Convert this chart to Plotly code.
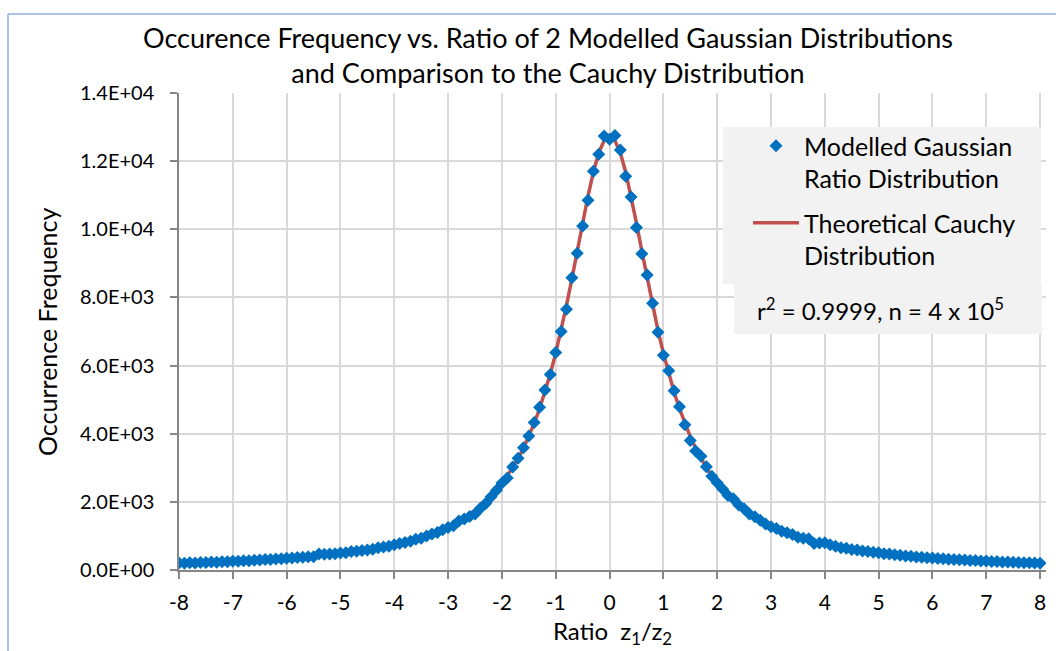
import plotly.graph_objects as go

# ---- data -------------------------------------------------------------
ratio_x = [round(-8 + 0.1 * i, 1) for i in range(161)]

modelled_freq = [
    205, 198, 210, 207, 221, 218, 232, 230, 245, 243,
    258, 257, 273, 272, 289, 290, 306, 310, 325, 330,
    345, 352, 366, 372, 386, 392, 470, 462, 468, 478,
    500, 505, 540, 548, 575, 590, 612, 650, 675, 695,
    740, 775, 810, 845, 900, 935, 1000, 1060, 1100, 1180,
    1250, 1300, 1440, 1500, 1570, 1640, 1810, 1950, 2150, 2340,
    2550, 2700, 3020, 3280, 3590, 3930, 4330, 4780, 5280, 5740,
    6380, 7000, 7650, 8580, 9300, 10100, 10850, 11700, 12200, 12740,
    12640,
    12750, 12330, 11560, 10950, 10050, 9280, 8660, 7830, 6980, 6300,
    5850, 5260, 4790, 4260, 3800, 3490, 3340, 3030, 2750, 2560,
    2380, 2190, 2090, 1910, 1800, 1640, 1560, 1460, 1350, 1270,
    1220, 1140, 1090, 1040, 960, 935, 920, 780, 790, 800,
    740, 700, 655, 640, 600, 585, 560, 545, 520, 505,
    480, 470, 445, 430, 410, 400, 385, 375, 360, 352,
    338, 330, 315, 310, 298, 292, 280, 276, 266, 262,
    252, 247, 238, 234, 226, 222, 214, 211, 204, 200,
]

cauchy_freq = [
    196, 201, 206, 211, 217, 222, 228, 235, 241, 248,
    255, 262, 270, 277, 286, 294, 303, 313, 323, 333,
    344, 356, 368, 380, 393, 407, 422, 438, 454, 471,
    490, 509, 530, 551, 575, 599, 625, 653, 683, 715,
    749, 785, 825, 867, 912, 961, 1014, 1071, 1133, 1200,
    1273, 1353, 1440, 1536, 1641, 1756, 1883, 2024, 2180, 2353,
    2546, 2762, 3003, 3273, 3576, 3918, 4301, 4733, 5218, 5761,
    6366, 7034, 7764, 8545, 9362, 10186, 10976, 11681, 12243, 12606,
    12732,
    12606, 12243, 11681, 10976, 10186, 9362, 8545, 7764, 7034, 6366,
    5761, 5218, 4733, 4301, 3918, 3576, 3273, 3003, 2762, 2546,
    2353, 2180, 2024, 1883, 1756, 1641, 1536, 1440, 1353, 1273,
    1200, 1133, 1071, 1014, 961, 912, 867, 825, 785, 749,
    715, 683, 653, 625, 599, 575, 551, 530, 509, 490,
    471, 454, 438, 422, 407, 393, 380, 368, 356, 344,
    333, 323, 313, 303, 294, 286, 277, 270, 262, 255,
    248, 241, 235, 228, 222, 217, 211, 206, 201, 196,
]

x_ticks = list(range(-8, 9))
y_tickvals = [0, 2000, 4000, 6000, 8000, 10000, 12000, 14000]
y_ticktext = ["0.0E+00", "2.0E+03", "4.0E+03", "6.0E+03",
              "8.0E+03", "1.0E+04", "1.2E+04", "1.4E+04"]

# ---- layout constants -------------------------------------------------
W, H = 1056, 651
L, R, T, B = 179, 10, 93, 81
PW, PH = W - L - R, H - T - B


def px(x):
    return (x - L) / PW


def py(y):
    return (H - B - y) / PH


FONT = "Lato, Carlito, Calibri, sans-serif"

fig = go.Figure()

fig.add_trace(go.Scatter(
    x=ratio_x, y=cauchy_freq, mode="lines",
    name="Theoretical Cauchy<br>Distribution",
    line=dict(color="#C0504D", width=3.5),
    legendrank=2, legendgroup="cauchy",
))
fig.add_trace(go.Scatter(
    x=ratio_x, y=modelled_freq, mode="markers",
    name="Modelled Gaussian<br>Ratio Distribution",
    marker=dict(symbol="diamond", size=10, color="#0070C0"),
    legendrank=1, legendgroup="modelled",
))

fig.update_layout(
    width=W, height=H,
    margin=dict(l=L, r=R, t=T, b=B),
    paper_bgcolor="white", plot_bgcolor="white",
    font=dict(family=FONT, color="#000000"),
    title=dict(
        text="Occurence Frequency vs. Ratio of 2 Modelled Gaussian Distributions"
             "<br>and Comparison to the Cauchy Distribution",
        x=548 / W, xref="container", xanchor="center",
        y=1 - 48 / H, yref="container", yanchor="middle",
        font=dict(size=27, family=FONT, color="#000000"),
    ),
    showlegend=True,
    legend=dict(
        x=px(748), y=py(123), xanchor="left", yanchor="top",
        bgcolor="rgba(0,0,0,0)", borderwidth=0,
        font=dict(size=25, family=FONT, color="#000000"),
        valign="top", tracegroupgap=9, itemwidth=46,
    ),
    xaxis=dict(
        range=[-8, 8.11], tickvals=x_ticks, ticktext=[str(v) for v in x_ticks],
        showgrid=True, gridcolor="#D9D9D9", gridwidth=1.5,
        zeroline=False, showline=True, linecolor="#868686", linewidth=1.5,
        ticks="outside", ticklen=7, tickcolor="#868686", tickwidth=1.5,
        tickfont=dict(size=21, family=FONT, color="#000000"),
        ticklabelstandoff=6,
    ),
    yaxis=dict(
        range=[0, 14000], tickvals=y_tickvals, ticktext=y_ticktext,
        showgrid=True, gridcolor="#D9D9D9", gridwidth=1.5,
        zeroline=False, showline=True, linecolor="#868686", linewidth=1.5,
        ticks="outside", ticklen=7, tickcolor="#868686", tickwidth=1.5,
        tickfont=dict(size=20, family=FONT, color="#000000"),
        ticklabelstandoff=12,
    ),
    shapes=[
        dict(type="rect", xref="paper", yref="paper",
             x0=px(723), x1=px(1041), y0=py(284), y1=py(127),
             fillcolor="#F2F2F2", line=dict(width=0), layer="above"),
        dict(type="rect", xref="paper", yref="paper",
             x0=px(734), x1=px(1042), y0=py(334), y1=py(284),
             fillcolor="#F2F2F2", line=dict(width=0), layer="above"),
        dict(type="line", xref="paper", yref="paper",
             x0=px(8), x1=px(8), y0=py(14), y1=py(H),
             line=dict(color="#8EB0DC", width=1.5)),
        dict(type="line", xref="paper", yref="paper",
             x0=px(8), x1=px(W), y0=py(14), y1=py(14),
             line=dict(color="#8EB0DC", width=1.5)),
    ],
    annotations=[
        dict(text="r<sup>2</sup> = 0.9999, n = 4 x 10<sup>5</sup>",
             xref="paper", yref="paper", x=px(880), y=py(309),
             xanchor="center", yanchor="middle", showarrow=False,
             font=dict(size=24, family=FONT, color="#000000")),
        dict(text="Occurrence Frequency", textangle=-90,
             xref="paper", yref="paper", x=px(47), y=py(332),
             xanchor="center", yanchor="middle", showarrow=False,
             font=dict(size=25, family=FONT, color="#000000")),
        dict(text="Ratio  z<sub>1</sub>/z<sub>2</sub>",
             xref="paper", yref="paper", x=px(612), y=py(632),
             xanchor="center", yanchor="middle", showarrow=False,
             font=dict(size=24, family=FONT, color="#000000")),
    ],
)

fig.write_html("out.html")
